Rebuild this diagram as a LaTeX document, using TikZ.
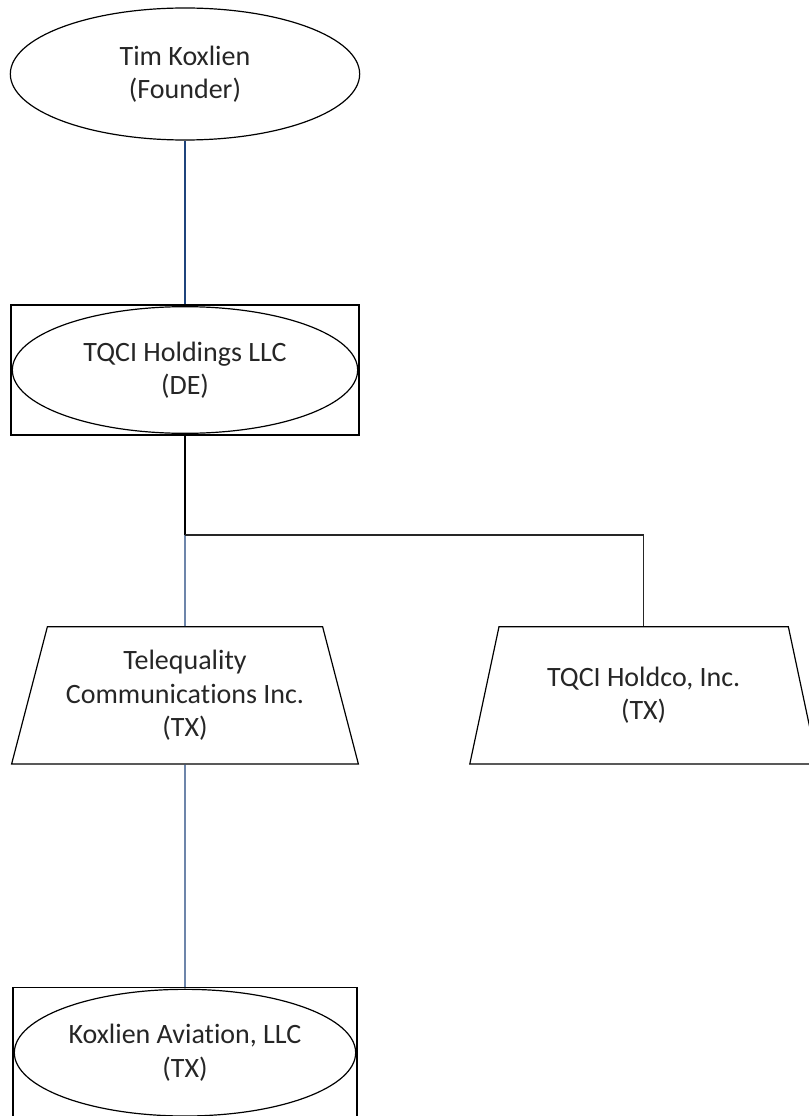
\documentclass[tikz,border=0pt]{standalone}
\usepackage{fontspec}
\setmainfont{Carlito}[Ligatures=NoCommon]
\usepackage{xcolor}
\usetikzlibrary{shapes.geometric, positioning}
\definecolor{orgBlue}{HTML}{1F447C}
\definecolor{orgDark}{HTML}{262626}

\begin{document}
\begin{tikzpicture}[x=0.75pt, y=-0.75pt, node distance=222pt]
        % Styles
        \tikzstyle{person} = [ellipse, draw=black, line width=0.9pt, minimum width=262pt, minimum height=99pt, align=center, text=orgDark, font=\fontsize{21}{25}\selectfont, inner sep=0pt]
        \tikzstyle{entitybox} = [rectangle, draw=black, line width=0.9pt, minimum width=261pt, minimum height=97.5pt, inner sep=0pt]
        \tikzstyle{entity} = [ellipse, draw=black, line width=0.9pt, minimum width=259pt, minimum height=95pt, align=center, text=orgDark, font=\fontsize{21}{25}\selectfont, inner sep=0pt]
        \tikzstyle{corp} = [trapezium, trapezium left angle=71, trapezium right angle=71, trapezium stretches=true, draw=black, line width=0.9pt, minimum width=261pt, minimum height=103pt, align=center, text=orgDark, font=\fontsize{21}{25}\selectfont, inner sep=0pt]
        \tikzstyle{ownline} = [line width=0.9pt, color=orgBlue]
        \tikzstyle{tieline} = [line width=0.9pt, color=black]

        \useasboundingbox (0,0) rectangle (809,1116);

        % Nodes
        \node (founder) [person] at (185,74) {Tim Koxlien\\(Founder)};

        \node (holdbox) [entitybox, below of=founder] {};
        \node (holdings) [entity] at (holdbox.center) {TQCI Holdings LLC\\(DE)};

        \node (tele) [corp, below of=holdbox, yshift=-22pt] {Telequality\\Communications Inc.\\(TX)};
        \node (holdco) [corp, right of=tele, xshift=122pt] {TQCI Holdco, Inc.\\(TX)};

        \node (avbox) [entitybox, below of=tele, yshift=-46pt, minimum width=258pt] {};
        \node (aviation) [entity, minimum width=256pt] at (avbox.center) {Koxlien Aviation, LLC\\(TX)};

        \coordinate (split) at (185,535);

        % Connectors
        \draw [ownline] (founder.south) -- (holdbox.north);
        \draw [tieline] (holdbox.south) -- (split);
        \draw [ownline] (split) -- (tele.north);
        \draw [tieline, color=orgDark] (split) -| (holdco.north);
        \draw [ownline] (tele.south) -- (avbox.north);

    \end{tikzpicture}
\end{document}
